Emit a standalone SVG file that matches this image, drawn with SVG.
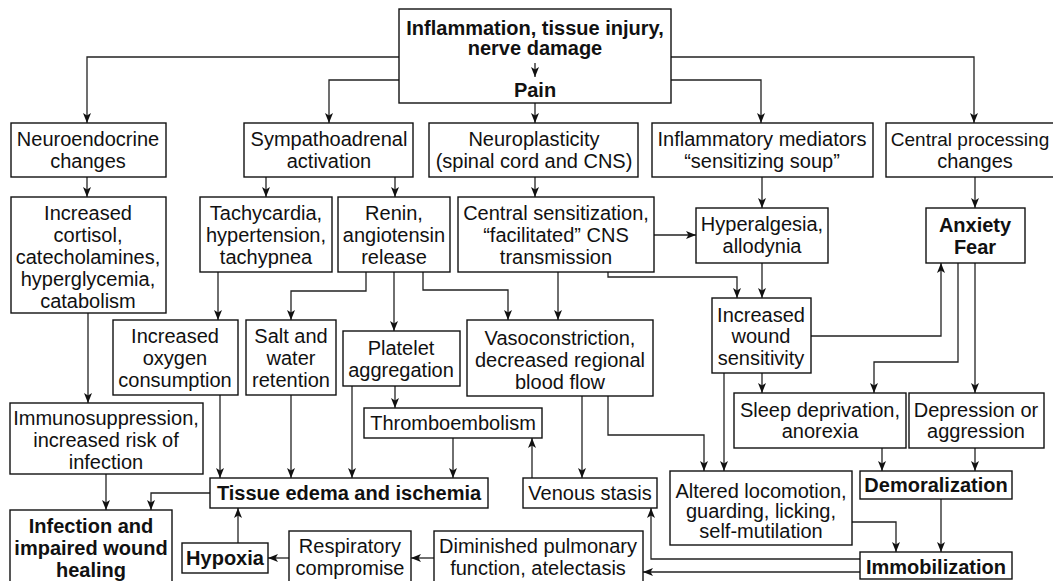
<svg xmlns="http://www.w3.org/2000/svg" width="1053" height="581" viewBox="0 0 1053 581">
<style>
.b{fill:#fff;stroke:#111;stroke-width:1.4}
.t{font-family:"Liberation Sans",Arial,sans-serif;font-size:20px;fill:#111;text-anchor:middle}
.bd{font-weight:bold}
.c{fill:none;stroke:#222;stroke-width:1.3}
</style>
<defs>
<marker id="a" markerUnits="userSpaceOnUse" markerWidth="10" markerHeight="8" refX="10" refY="4" orient="auto">
<path d="M0,0 L10,4 L0,8 L2.5,4 z" fill="#111"/>
</marker>
</defs>
<rect width="1053" height="581" fill="#fff"/>

<g id="connectors">
<path class="c" d="M399,57 H87 V123" marker-end="url(#a)"/>
<path class="c" d="M671,57 H974 V123" marker-end="url(#a)"/>
<path class="c" d="M399,80 H329 V123" marker-end="url(#a)"/>
<path class="c" d="M671,80 H761 V123" marker-end="url(#a)"/>
<path class="c" d="M535,103 V123" marker-end="url(#a)"/>
<path class="c" d="M87,177 V197" marker-end="url(#a)"/>
<path class="c" d="M266,177 V197" marker-end="url(#a)"/>
<path class="c" d="M395,177 V197" marker-end="url(#a)"/>
<path class="c" d="M535,177 V197" marker-end="url(#a)"/>
<path class="c" d="M762,177 V208" marker-end="url(#a)"/>
<path class="c" d="M975,177 V208" marker-end="url(#a)"/>
<path class="c" d="M654,235 H696" marker-end="url(#a)"/>
<path class="c" d="M218,272 V320" marker-end="url(#a)"/>
<path class="c" d="M366,272 V291 H291 V320" marker-end="url(#a)"/>
<path class="c" d="M394,272 V331" marker-end="url(#a)"/>
<path class="c" d="M423,272 V290 H508 V320" marker-end="url(#a)"/>
<path class="c" d="M558,272 V320" marker-end="url(#a)"/>
<path class="c" d="M608,272 V277 H737 V298" marker-end="url(#a)"/>
<path class="c" d="M762,263 V298" marker-end="url(#a)"/>
<path class="c" d="M811,336 H941 V263" marker-end="url(#a)"/>
<path class="c" d="M958,263 V362 H874 V393" marker-end="url(#a)"/>
<path class="c" d="M975,263 V393" marker-end="url(#a)"/>
<path class="c" d="M762,373 V393" marker-end="url(#a)"/>
<path class="c" d="M724,373 V471" marker-end="url(#a)"/>
<path class="c" d="M88,313 V403" marker-end="url(#a)"/>
<path class="c" d="M106,474 V510" marker-end="url(#a)"/>
<path class="c" d="M220,395 V478" marker-end="url(#a)"/>
<path class="c" d="M291,395 V478" marker-end="url(#a)"/>
<path class="c" d="M352,386 V478" marker-end="url(#a)"/>
<path class="c" d="M395,386 V408" marker-end="url(#a)"/>
<path class="c" d="M453,438 V478" marker-end="url(#a)"/>
<path class="c" d="M582,396 V478" marker-end="url(#a)"/>
<path class="c" d="M532,478 V438" marker-end="url(#a)"/>
<path class="c" d="M608,396 V435 H704 V471" marker-end="url(#a)"/>
<path class="c" d="M210,493 H151 V510" marker-end="url(#a)"/>
<path class="c" d="M238,543 V508" marker-end="url(#a)"/>
<path class="c" d="M289,558 H268" marker-end="url(#a)"/>
<path class="c" d="M434,558 H411" marker-end="url(#a)"/>
<path class="c" d="M860,559 H651 V508" marker-end="url(#a)"/>
<path class="c" d="M860,572 H643" marker-end="url(#a)"/>
<path class="c" d="M852,522 H896 V552" marker-end="url(#a)"/>
<path class="c" d="M941,499 V552" marker-end="url(#a)"/>
<path class="c" d="M882,448 V471" marker-end="url(#a)"/>
<path class="c" d="M975,448 V471" marker-end="url(#a)"/>
</g>

<g id="n-top">
<rect class="b" x="399" y="9" width="272" height="94"/>
<text class="t bd" x="535" y="35">Inflammation, tissue injury,</text>
<text class="t bd" x="535" y="55">nerve damage</text>
<path class="c" d="M535,63 V77" marker-end="url(#a)"/>
<text class="t bd" x="535" y="97">Pain</text>
</g>

<g id="n-neuroendo">
<rect class="b" x="11" y="123" width="155" height="54"/>
<text class="t" x="88" y="146">Neuroendocrine</text>
<text class="t" x="88" y="168">changes</text>
</g>
<g id="n-sympatho">
<rect class="b" x="244" y="123" width="169" height="54"/>
<text class="t" x="329" y="146">Sympathoadrenal</text>
<text class="t" x="329" y="168">activation</text>
</g>
<g id="n-neuroplast">
<rect class="b" x="429" y="123" width="209" height="54"/>
<text class="t" x="534" y="146">Neuroplasticity</text>
<text class="t" x="534" y="168">(spinal cord and CNS)</text>
</g>
<g id="n-inflmed">
<rect class="b" x="652" y="123" width="221" height="54"/>
<text class="t" x="762" y="146">Inflammatory mediators</text>
<text class="t" x="762" y="168">“sensitizing soup”</text>
</g>
<g id="n-central">
<rect class="b" x="886" y="123" width="180" height="54"/>
<text class="t" x="970" y="146" style="font-size:19px">Central processing</text>
<text class="t" x="975" y="168">changes</text>
</g>

<g id="n-cortisol">
<rect class="b" x="11" y="197" width="155" height="116"/>
<text class="t" x="88" y="220">Increased</text>
<text class="t" x="88" y="242">cortisol,</text>
<text class="t" x="88" y="264">catecholamines,</text>
<text class="t" x="88" y="286">hyperglycemia,</text>
<text class="t" x="88" y="308">catabolism</text>
</g>
<g id="n-tachy">
<rect class="b" x="200" y="197" width="132" height="75"/>
<text class="t" x="266" y="220">Tachycardia,</text>
<text class="t" x="266" y="242">hypertension,</text>
<text class="t" x="266" y="264">tachypnea</text>
</g>
<g id="n-renin">
<rect class="b" x="338" y="197" width="112" height="75"/>
<text class="t" x="394" y="220">Renin,</text>
<text class="t" x="394" y="242">angiotensin</text>
<text class="t" x="394" y="264">release</text>
</g>
<g id="n-centsens">
<rect class="b" x="458" y="197" width="196" height="75"/>
<text class="t" x="556" y="220">Central sensitization,</text>
<text class="t" x="556" y="242">“facilitated” CNS</text>
<text class="t" x="556" y="264">transmission</text>
</g>
<g id="n-hyperalg">
<rect class="b" x="696" y="208" width="132" height="55"/>
<text class="t" x="762" y="231">Hyperalgesia,</text>
<text class="t" x="762" y="253">allodynia</text>
</g>
<g id="n-anxiety">
<rect class="b" x="926" y="208" width="99" height="55"/>
<text class="t bd" x="975" y="232">Anxiety</text>
<text class="t bd" x="975" y="254">Fear</text>
</g>

<g id="n-wound">
<rect class="b" x="712" y="298" width="99" height="75"/>
<text class="t" x="761" y="322">Increased</text>
<text class="t" x="761" y="343">wound</text>
<text class="t" x="761" y="365">sensitivity</text>
</g>
<g id="n-oxygen">
<rect class="b" x="113" y="320" width="125" height="75"/>
<text class="t" x="175" y="343">Increased</text>
<text class="t" x="175" y="365">oxygen</text>
<text class="t" x="175" y="387">consumption</text>
</g>
<g id="n-salt">
<rect class="b" x="246" y="320" width="90" height="75"/>
<text class="t" x="291" y="343">Salt and</text>
<text class="t" x="291" y="365">water</text>
<text class="t" x="291" y="387">retention</text>
</g>
<g id="n-platelet">
<rect class="b" x="343" y="331" width="117" height="55"/>
<text class="t" x="401" y="355">Platelet</text>
<text class="t" x="401" y="377">aggregation</text>
</g>
<g id="n-vaso">
<rect class="b" x="467" y="320" width="186" height="76"/>
<text class="t" x="560" y="345">Vasoconstriction,</text>
<text class="t" x="560" y="367">decreased regional</text>
<text class="t" x="560" y="389">blood flow</text>
</g>

<g id="n-immuno">
<rect class="b" x="10" y="403" width="193" height="71"/>
<text class="t" x="106" y="425">Immunosuppression,</text>
<text class="t" x="106" y="447">increased risk of</text>
<text class="t" x="106" y="469">infection</text>
</g>
<g id="n-thrombo">
<rect class="b" x="364" y="408" width="178" height="30"/>
<text class="t" x="453" y="430">Thromboembolism</text>
</g>
<g id="n-sleep">
<rect class="b" x="734" y="393" width="172" height="55"/>
<text class="t" x="820" y="417">Sleep deprivation,</text>
<text class="t" x="820" y="438">anorexia</text>
</g>
<g id="n-depress">
<rect class="b" x="909" y="393" width="135" height="55"/>
<text class="t" x="976" y="417">Depression or</text>
<text class="t" x="976" y="438">aggression</text>
</g>

<g id="n-tissue">
<rect class="b" x="210" y="478" width="278" height="30"/>
<text class="t bd" x="349" y="500">Tissue edema and ischemia</text>
</g>
<g id="n-venous">
<rect class="b" x="523" y="478" width="134" height="30"/>
<text class="t" x="590" y="500">Venous stasis</text>
</g>
<g id="n-altered">
<rect class="b" x="670" y="471" width="182" height="74"/>
<text class="t" x="761" y="498">Altered locomotion,</text>
<text class="t" x="761" y="518">guarding, licking,</text>
<text class="t" x="761" y="538">self-mutilation</text>
</g>
<g id="n-demoral">
<rect class="b" x="860" y="471" width="152" height="28"/>
<text class="t bd" x="936" y="492">Demoralization</text>
</g>
<g id="n-immob">
<rect class="b" x="860" y="552" width="152" height="27"/>
<text class="t bd" x="936" y="574">Immobilization</text>
</g>
<g id="n-infection">
<rect class="b" x="10" y="510" width="162" height="80"/>
<text class="t bd" x="91" y="533">Infection and</text>
<text class="t bd" x="91" y="555">impaired wound</text>
<text class="t bd" x="91" y="577">healing</text>
</g>
<g id="n-hypoxia">
<rect class="b" x="182" y="543" width="86" height="30"/>
<text class="t bd" x="225" y="565">Hypoxia</text>
</g>
<g id="n-resp">
<rect class="b" x="289" y="531" width="122" height="60"/>
<text class="t" x="350" y="553">Respiratory</text>
<text class="t" x="350" y="575">compromise</text>
</g>
<g id="n-dimin">
<rect class="b" x="434" y="531" width="209" height="60"/>
<text class="t" x="538" y="553">Diminished pulmonary</text>
<text class="t" x="538" y="575">function, atelectasis</text>
</g>
</svg>
